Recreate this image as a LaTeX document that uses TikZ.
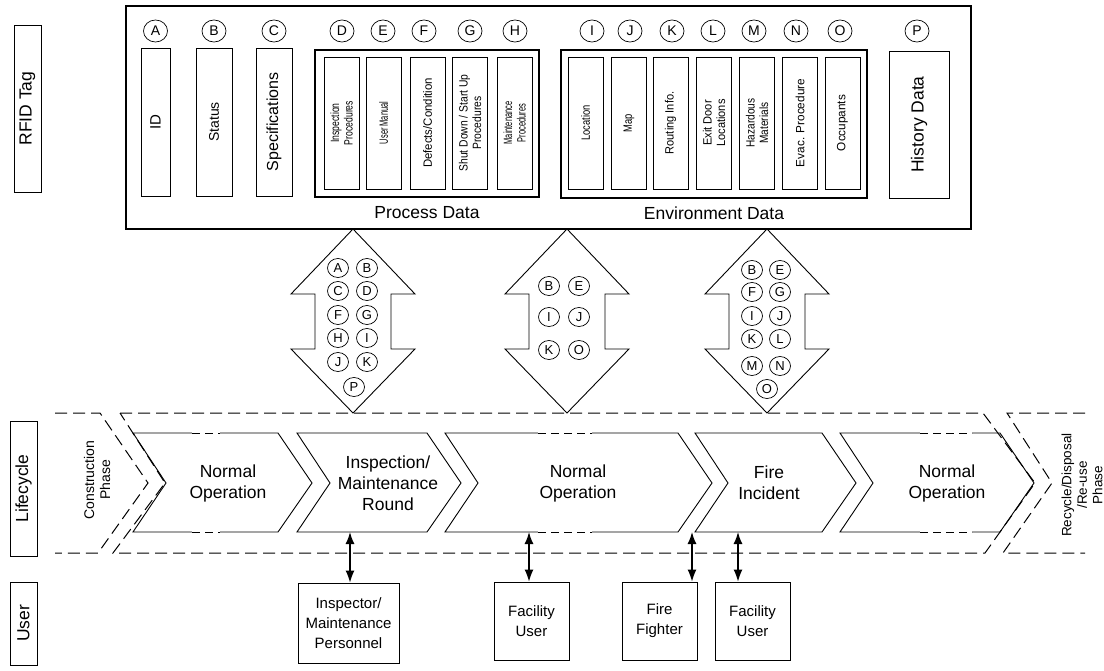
\documentclass[tikz,border=0pt]{standalone}
\usepackage{fontspec}
\setmainfont{Liberation Sans}
\usepackage{tikz}
\usetikzlibrary{positioning,shapes.geometric,arrows.meta}
\newcommand{\fsz}[2]{\fontsize{#1}{#2}\selectfont}

\begin{document}
\begin{tikzpicture}[
    x=1pt, y=-1pt,
    box/.style={draw, line width=0.8pt, inner sep=1pt, align=center},
    vbox/.style={box, rotate=90},
    letter/.style={draw, ellipse, line width=0.7pt, inner sep=0pt, minimum width=24pt, minimum height=22pt, font=\fsz{14}{16}},
    small letter/.style={letter, minimum width=21pt, minimum height=19pt, font=\fsz{13}{15}},
    band/.style={dash pattern=on 12pt off 6pt, line width=1pt},
    link/.style={{Latex[length=12pt,width=9pt]}-{Latex[length=12pt,width=9pt]}, line width=1.4pt}
]
    \useasboundingbox (0,0) rectangle (1104,671);
    \clip (0,0) rectangle (1104,671);

    % row labels
    \node[vbox, minimum width=167pt, minimum height=27pt, font=\fsz{17.5}{20}] (rfidlbl) at (27.5,108.5) {RFID Tag};
    \node[vbox, minimum width=135pt, minimum height=27pt, font=\fsz{17.5}{20}] (lifelbl) at (23.5,488.5) {Lifecycle};
    \node[vbox, minimum width=83pt, minimum height=27pt, font=\fsz{17.5}{20}] (userlbl) at (23.5,623.5) {User};

    % tag contents
    \node[box, line width=2.5pt, minimum width=845pt, minimum height=223pt] (tag) at (548.5,117.5) {};
    \node[vbox, minimum width=148pt, minimum height=29pt, font=\fsz{15}{17}] (id) at (155.5,122) {ID};
    \node[vbox, minimum width=148pt, minimum height=36pt, font=\fsz{14}{16}] (status) at (214,122) {Status};
    \node[vbox, minimum width=148pt, minimum height=36pt, font=\fsz{16}{18}] (spec) at (274,122) {Specifications};
    \node[vbox, minimum width=147pt, minimum height=60pt, font=\fsz{17.5}{20}] (hist) at (919,124.5) {History Data};

    \node[box, line width=1.2pt, minimum width=224pt, minimum height=147pt] (proc) at (427,123.5) {};
    \node[font=\fsz{17.5}{20}] (proclbl) at (427,213) {Process Data};
    \node[box, line width=1.2pt, minimum width=306pt, minimum height=148pt] (env) at (714,124) {};
    \node[font=\fsz{17.5}{20}] (envlbl) at (714,213) {Environment Data};

    % inner columns, text squeezed along its length
    \foreach \cx/\s/\nm/\txt in {
        341.5/0.72/insp/{Inspection\\Procedures},
        383.5/0.62/manual/{User Manual},
        427.5/0.95/defect/{Defects/Condition},
        470/0.86/shut/{Shut Down / Start Up\\Procedures},
        514.5/0.62/maint/{Maintenance\\Procedures},
        585.5/0.78/loc/{Location},
        629/0.78/map/{Map},
        670.5/0.92/route/{Routing Info.},
        714/0.92/exit/{Exit Door\\Locations},
        757/0.84/hazard/{Hazardous\\Materials},
        800/0.98/evac/{Evac. Procedure},
        842.5/0.98/occ/{Occupants}}
        \node[vbox, xscale=\s, minimum width={132pt/\s}, minimum height=35pt, font=\fsz{12}{13.5}] (\nm) at (\cx,123) {\txt};

    \foreach \lx/\l in {155.5/A, 214/B, 274/C, 342/D, 383/E, 424/F, 470/G, 515/H,
        592/I, 630/J, 672/K, 713/L, 754/M, 796/N, 840/O, 917/P}
        \node[letter] (t\l) at (\lx,31) {\l};

    % exchange arrows
    \foreach \cx in {353,567,767}
        \draw[line width=0.9pt] (\cx,229) -- (\cx+62,294) -- (\cx+38,294) -- (\cx+38,349) -- (\cx+62,349)
            -- (\cx,413) -- (\cx-62,349) -- (\cx-38,349) -- (\cx-38,294) -- (\cx-62,294) -- cycle;

    \foreach \lx/\ly/\l in {338/268/A, 367/268/B, 338/291/C, 367/291/D, 338/315/F, 367/315/G,
        338/338/H, 367/338/I, 338/362/J, 367/362/K, 354/387/P}
        \node[small letter] (p\l) at (\lx,\ly) {\l};
    \foreach \lx/\ly/\l in {549/286/B, 579/286/E, 549/317/I, 579/317/J, 549/350/K, 579/350/O}
        \node[small letter] (q\l) at (\lx,\ly) {\l};
    \foreach \lx/\ly/\l in {752/270/B, 780/270/E, 752/292/F, 780/292/G, 752/316/I, 780/316/J,
        752/339/K, 780/339/L, 752/366/M, 780/366/N, 767/389/O}
        \node[small letter] (r\l) at (\lx,\ly) {\l};

    % lifecycle band
    \draw[band] (55,413) -- (100,413) -- (148,483) -- (98,553) -- (55,553);
    \draw[band] (120,413) -- (983,413) -- (1035,483) -- (985,553) -- (113,553) -- (165,483) -- cycle;
    \draw[band] (1085,413) -- (1007,413) -- (1052,483) -- (1003,553) -- (1085,553);
    \node[rotate=90, align=center, font=\fsz{14}{16}] (constr) at (97,480) {Construction\\Phase};
    \node[rotate=90, align=center, font=\fsz{13.5}{15.5}] (recyc) at (1082,485) {Recycle/Disposal\\/Re-use\\Phase};

    \foreach \L/\R/\tx/\nm/\txt in {
        133/278/228/ch1/{Normal\\Operation},
        297/427/388/ch2/{Inspection/\\Maintenance\\Round},
        445/678/578/ch3/{Normal\\Operation},
        695/822/769/ch4/{Fire\\Incident},
        840/1000/947/ch5/{Normal\\Operation}}{
        \draw[line width=0.9pt] (\L,433) -- (\R,433) -- (\R+34,483) -- (\R,532) -- (\L,532) -- (\L+33,483) -- cycle;
        \node[align=center, font=\fsz{17.5}{21}] (\nm) at (\tx,483) {\txt};
    }
    \foreach \a/\b in {192/220, 538/592, 920/972}{
        \draw[white, line width=2pt] (\a,433) -- (\b,433) (\a,532) -- (\b,532);
        \draw[dash pattern=on 8pt off 5pt, line width=0.9pt] (\a,433) -- (\b,433) (\a,532) -- (\b,532);
    }

    % users
    \node[box, minimum width=101pt, minimum height=80pt, font=\fsz{15}{20}] (inspu) at (348.5,623) {Inspector/\\Maintenance\\Personnel};
    \node[box, minimum width=75pt, minimum height=78pt, font=\fsz{15}{20}] (facu) at (531.5,621) {Facility\\User};
    \node[box, minimum width=75pt, minimum height=78pt, font=\fsz{15}{20}] (fire) at (659.5,621) {Fire\\Fighter};
    \node[box, minimum width=75pt, minimum height=78pt, font=\fsz{15}{20}] (facv) at (752.5,621) {Facility\\User};

    \coordinate (c2b) at (350,532);
    \coordinate (c3b) at (529,532);
    \coordinate (c4b) at (692,532);
    \coordinate (c4c) at (738,532);
    \draw[link] (c2b) -- (c2b |- inspu.north);
    \draw[link] (c3b) -- (c3b |- facu.north);
    \draw[link] (c4b) -- (c4b |- fire.north);
    \draw[link] (c4c) -- (c4c |- facv.north);
\end{tikzpicture}
\end{document}
